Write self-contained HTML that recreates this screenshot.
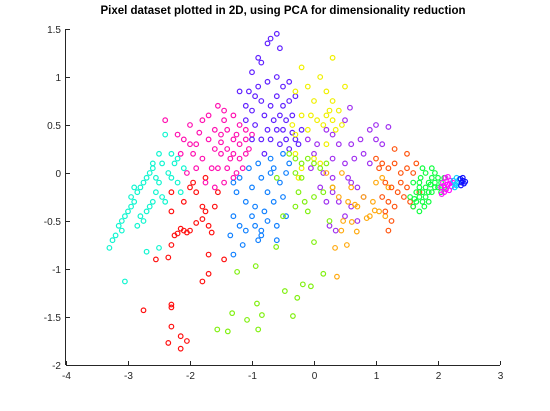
<!DOCTYPE html>
<html><head><meta charset="utf-8"><style>
body{margin:0;background:#fff;}
svg text{font-family:"Liberation Sans",sans-serif;}
</style></head><body>
<svg id="chart" width="550" height="406" xmlns="http://www.w3.org/2000/svg">
<rect width="550" height="406" fill="#fff"/>
<text x="283" y="14" text-anchor="middle" font-size="11.5" font-weight="bold">Pixel dataset plotted in 2D, using PCA for dimensionality reduction</text>
<g id="marks"></g>
<g id="axes"></g>
</svg>
<script>
const xTicks=[-4,-3,-2,-1,0,1,2,3];
const yTicks=[-2,-1.5,-1,-0.5,0,0.5,1,1.5];
const seriesNames=["cyan","red","pink","purple","violet","yellow","blue","lime","orange","orangered","green","magenta","skyblue","deepblue"];
const seriesColors=["#10f5d0","#ff1010","#ff10b0","#6020ff","#a030f0","#f0f000","#1080ff","#80f010","#ffaa10","#ff5510","#10ff40","#ff10ff","#10d0ff","#1010ff"];
const cyanPts=[[-2.4,0.4],[-2.5,0.2],[-2.45,0.1],[-2.6,0.05],[-2.65,0],[-2.7,-0.05],[-2.75,-0.1],[-2.8,-0.15],[-2.85,-0.2],[-2.9,-0.3],[-2.95,-0.35],[-3,-0.4],[-3.05,-0.45],[-3.1,-0.5],[-3.15,-0.55],[-3.1,-0.6],[-3.2,-0.65],[-3.25,-0.7],[-3.3,-0.78],[-3.05,-1.13],[-2.7,-0.82],[-2.5,-0.78],[-2.3,0.2],[-2.2,0.15],[-2.35,0],[-2.5,-0.1],[-2.55,-0.2],[-2.6,-0.3],[-2.65,-0.35],[-2.7,-0.4],[-2.75,-0.5],[-2.8,-0.45],[-2.85,-0.55],[-2.3,-0.05],[-2.2,-0.1],[-2.4,-0.3],[-2.45,-0.25],[-2.25,0.1],[-2.1,0.05],[-2.15,-0.2],[-2.55,-0.05],[-2.6,0.1],[-2.9,-0.15],[-2.95,-0.25]];
const redPts=[[-2.2,-0.63],[-2.1,-0.6],[-2.05,-0.62],[-2.15,-0.58],[-2,-0.6],[-1.9,-0.52],[-1.8,-0.48],[-1.7,-0.55],[-1.65,-0.62],[-1.75,-0.4],[-1.8,-0.35],[-1.75,-0.05],[-1.9,-0.2],[-2.1,-0.3],[-2.3,-0.4],[-2.25,-0.65],[-2.3,-0.75],[-2.35,-0.88],[-2.55,-0.9],[-1.7,-0.85],[-1.45,-0.9],[-1.7,-1.05],[-1.8,-1.13],[-2.75,-1.43],[-2.3,-1.37],[-2.3,-1.4],[-2.3,-1.6],[-2.35,-1.77],[-2.15,-1.7],[-2.05,-1.75],[-2.15,-1.83],[-1.55,-0.2],[-2.3,-0.2],[-2,-0.15],[-1.95,-0.1],[-1.6,-0.35]];
const pinkPts=[[-1.55,0.7],[-1.45,0.65],[-1.3,0.6],[-1.2,0.5],[-1.1,0.45],[-1.7,0.6],[-1.8,0.55],[-2,0.5],[-2.2,0.4],[-2.1,0.35],[-1.9,0.3],[-1.7,0.35],[-1.5,0.4],[-1.4,0.45],[-1.3,0.35],[-1.2,0.3],[-1.1,0.35],[-1.6,0.25],[-1.5,0.2],[-1.4,0.25],[-1.3,0.2],[-1.2,0.15],[-1.1,0.2],[-1.8,0.15],[-1.9,0.05],[-2.05,0],[-1.75,-0.1],[-1.6,-0.15],[-1.45,-0.1],[-1.3,-0.05],[-1.4,0.05],[-1.25,0],[-1.65,0.05],[-2.4,0.55],[-2,0.3],[-1.95,0.2],[-1.55,0.05],[-1.35,0.15],[-1,0.4],[-1.05,0.25],[-1.5,0.32],[-1.6,0.45],[-1.85,0.42],[-2.15,0.2],[-1.15,0.05],[-1.45,0.55],[-1.25,0.4]];
const purplePts=[[-0.6,1.45],[-0.7,1.4],[-0.75,1.35],[-0.55,1.3],[-0.9,1.2],[-0.85,1.15],[-1,1.05],[-0.75,0.95],[-0.6,1],[-0.4,0.95],[-1.2,0.85],[-1.05,0.85],[-0.95,0.8],[-0.85,0.75],[-0.6,0.8],[-0.5,0.7],[-0.4,0.75],[-1,0.65],[-0.8,0.6],[-0.65,0.55],[-0.55,0.6],[-0.45,0.55],[-0.35,0.6],[-1.1,0.55],[-0.95,0.5],[-0.75,0.45],[-0.6,0.45],[-0.5,0.45],[-0.35,0.42],[-0.85,0.35],[-0.7,0.35],[-0.55,0.3],[-0.45,0.35],[-0.3,0.35],[-0.25,0.3],[-0.9,0.9],[-0.7,0.7],[-0.5,0.9],[-0.3,0.8],[-1.1,0.7],[-0.2,0.45],[-0.4,0.25],[-1,0.35],[-0.8,0.2]];
const violetPts=[[0.2,0.45],[0.3,0.4],[0.5,0.55],[-0.1,0.35],[0.05,0.3],[0.4,0.3],[0.6,0.3],[0.8,0.2],[1,0.5],[1.2,0.48],[0.9,0.45],[1,0.35],[1.1,0.3],[0,0.2],[0.3,0.15],[0.5,0.1],[0.55,-0.05],[0.6,-0.1],[0.7,-0.15],[0.8,-0.25],[0.3,-0.05],[0.4,-0.3],[0.5,-0.45],[0.2,-0.3],[0.1,-0.15],[0.25,-0.55],[0.35,-0.6],[0.7,-0.5],[0.6,-0.35],[0.15,0],[0.58,0.68],[0.65,0.15],[0.9,0.1],[0.75,0.35],[-0.05,0.05],[0.3,-0.2]];
const yellowPts=[[-0.2,1.1],[0.1,1],[0.3,1.2],[-0.3,0.85],[-0.1,0.9],[0.2,0.85],[0.5,0.9],[0,0.75],[0.3,0.75],[-0.2,0.6],[-0.05,0.6],[0.2,0.6],[0.4,0.65],[-0.3,0.4],[0.15,0.5],[0.3,0.55],[-0.3,0.2],[0,0.15],[0.2,0.3],[0.35,0.45],[-0.25,-0.05],[-0.2,0.05],[0.1,0.1],[-0.1,0.45],[0.45,0.5],[-0.35,0.5],[0.05,0.55],[0.25,0.65]];
const bluePts=[[-1.3,-0.1],[-1.2,-0.05],[-1,-0.15],[-0.85,-0.05],[-0.7,0],[-0.55,-0.1],[-0.45,0],[-1.1,-0.3],[-0.95,-0.35],[-0.8,-0.4],[-0.65,-0.3],[-0.5,-0.25],[-1.3,-0.45],[-1.2,-0.55],[-1.1,-0.6],[-0.95,-0.55],[-0.85,-0.6],[-0.75,-0.5],[-1.35,-0.65],[-1.15,-0.75],[-0.9,-0.7],[-0.85,-0.65],[-0.6,-0.55],[-1.25,-0.2],[-0.7,0.15],[-0.5,0.2],[-0.4,0.1],[-0.9,0.1],[-1.05,0.05],[-0.6,-0.7],[-1.3,-0.85],[-0.45,-0.45],[-0.75,-0.2],[-1,-0.45],[-0.65,0.05]];
const limePts=[[-0.4,0.2],[-0.3,0.15],[-0.2,0.1],[-0.1,0.15],[0,0.1],[0.1,0.05],[0.2,0.1],[-0.3,0],[-0.2,-0.05],[-0.25,-0.2],[-0.15,-0.3],[-0.3,-0.35],[0,-0.25],[0.15,-0.2],[0.3,-0.15],[-0.1,-0.4],[0.25,-0.5],[-0.5,-0.45],[0,-0.72],[-0.6,-0.05],[-0.61,-0.77],[-1.56,-1.63],[-1.39,-1.65],[-0.9,-1.63],[-1.08,-1.53],[-1.32,-1.46],[-0.92,-1.36],[-0.84,-1.48],[-0.47,-1.23],[-0.27,-1.3],[-0.34,-1.49],[-0.18,-1.16],[-0.05,-1.18],[0.15,-1.05],[-1.24,-1.03],[-0.94,-0.97]];
const orangePts=[[0.3,-0.15],[0.4,-0.25],[0.55,-0.3],[0.7,-0.35],[0.8,-0.25],[0.95,-0.3],[1,-0.1],[1.1,-0.05],[1.2,-0.15],[1.05,-0.4],[1.15,-0.45],[0.9,-0.45],[0.47,-0.5],[0.61,-0.51],[0.69,-0.61],[0.44,-0.6],[0.34,-0.78],[0.53,-0.75],[0.37,-1.08],[0.85,-0.47],[0.66,-0.33],[0.98,-0.39],[0.2,0],[0.45,0],[0.6,-0.15]];
const orangeredPts=[[1,0.15],[1.1,0.1],[1.2,0.05],[1.3,0.1],[1.4,0],[1.5,0.05],[1.6,0],[1.15,-0.1],[1.25,-0.15],[1.35,-0.2],[1.45,-0.25],[1.55,-0.3],[1.6,-0.35],[1.2,-0.3],[1.3,-0.35],[1.1,-0.25],[1.15,-0.4],[1.25,-0.5],[1.2,-0.6],[1.4,-0.1],[1.5,-0.15],[1.7,-0.2],[1.65,0.1],[1.3,0.25],[1.5,0.2],[1.05,0.05]];
const greenPts=[[1.6,-0.35],[1.65,-0.3],[1.7,-0.25],[1.75,-0.2],[1.8,-0.15],[1.85,-0.1],[1.9,-0.05],[1.95,-0.1],[2,-0.05],[2.05,-0.1],[1.7,-0.15],[1.75,-0.3],[1.8,-0.25],[1.85,-0.2],[1.9,-0.2],[1.95,-0.15],[2,-0.15],[1.65,-0.2],[1.7,-0.1],[1.8,0],[1.9,0.05],[1.75,0.05],[1.6,-0.1],[1.85,-0.3],[2.05,-0.2],[2.1,-0.15],[1.7,-0.4],[1.55,-0.25],[1.95,0],[2.1,-0.05],[1.78,-0.35],[1.88,-0.12],[1.72,-0.05],[1.62,-0.27]];
const magentaPts=[[2.05,-0.15],[2.08,-0.1],[2.1,-0.2],[2.12,-0.05],[2.15,-0.12],[2.18,-0.18],[2.2,-0.08],[2.22,-0.14],[2.1,-0.13],[2.16,-0.04],[2.06,-0.22],[2.13,-0.17],[2.19,-0.11],[2.24,-0.1]];
const skybluePts=[[2.25,-0.08],[2.28,-0.12],[2.3,-0.05],[2.32,-0.1],[2.27,-0.15],[2.34,-0.07],[2.3,-0.13]];
const deepbluePts=[[2.36,-0.06],[2.38,-0.1],[2.4,-0.08],[2.42,-0.11],[2.37,-0.13],[2.44,-0.09],[2.4,-0.05]];
const allSeries=[cyanPts,redPts,pinkPts,purplePts,violetPts,yellowPts,bluePts,limePts,orangePts,orangeredPts,greenPts,magentaPts,skybluePts,deepbluePts];

const L=66,R=500,T=29,B=365;
const xMin=-4,xMax=3,yMin=-2,yMax=1.5;
function sx(v){return L+(v-xMin)/(xMax-xMin)*(R-L);}
function sy(v){return B-(v-yMin)/(yMax-yMin)*(B-T);}
const NS="http://www.w3.org/2000/svg";
const marks=document.getElementById('marks');
allSeries.forEach((pts,si)=>{
  const g=document.createElementNS(NS,'g');
  
  
  pts.forEach(p=>{
    const c=document.createElementNS(NS,'circle');
    c.setAttribute('cx',sx(p[0]));c.setAttribute('cy',sy(p[1]));
    c.setAttribute('r',2.3);c.setAttribute('fill','none');
    c.setAttribute('stroke',seriesColors[si]);c.setAttribute('stroke-width',1.2);
    
    
    g.appendChild(c);
  });
  marks.appendChild(g);
});
const axes=document.getElementById('axes');
function line(x1,y1,x2,y2,name){
  const l=document.createElementNS(NS,'line');
  l.setAttribute('x1',x1);l.setAttribute('y1',y1);l.setAttribute('x2',x2);l.setAttribute('y2',y2);
  l.setAttribute('stroke','#262626');l.setAttribute('stroke-width',1);
  
  
  axes.appendChild(l);
}
function text(x,y,s,anchor,name){
  const t=document.createElementNS(NS,'text');
  t.setAttribute('x',x);t.setAttribute('y',y);t.setAttribute('font-size',10);
  t.setAttribute('text-anchor',anchor);t.setAttribute('fill','#262626');
  t.textContent=s;
  
  
  axes.appendChild(t);
}
line(L,B+0.5,R,B+0.5,'x-axis-line');
line(L-0.5,T,L-0.5,B,'y-axis-line');
xTicks.forEach(v=>{const x=Math.round(sx(v))+0.5;line(x,B,x,B-4,'x-tick');text(x,B+14,String(v),'middle','x-tick-label');});
yTicks.forEach(v=>{const y=Math.round(sy(v))+0.5;line(L,y,L+4,y,'y-tick');text(L-5,y+3.5,String(v),'end','y-tick-label');});
</script>
</body></html>
